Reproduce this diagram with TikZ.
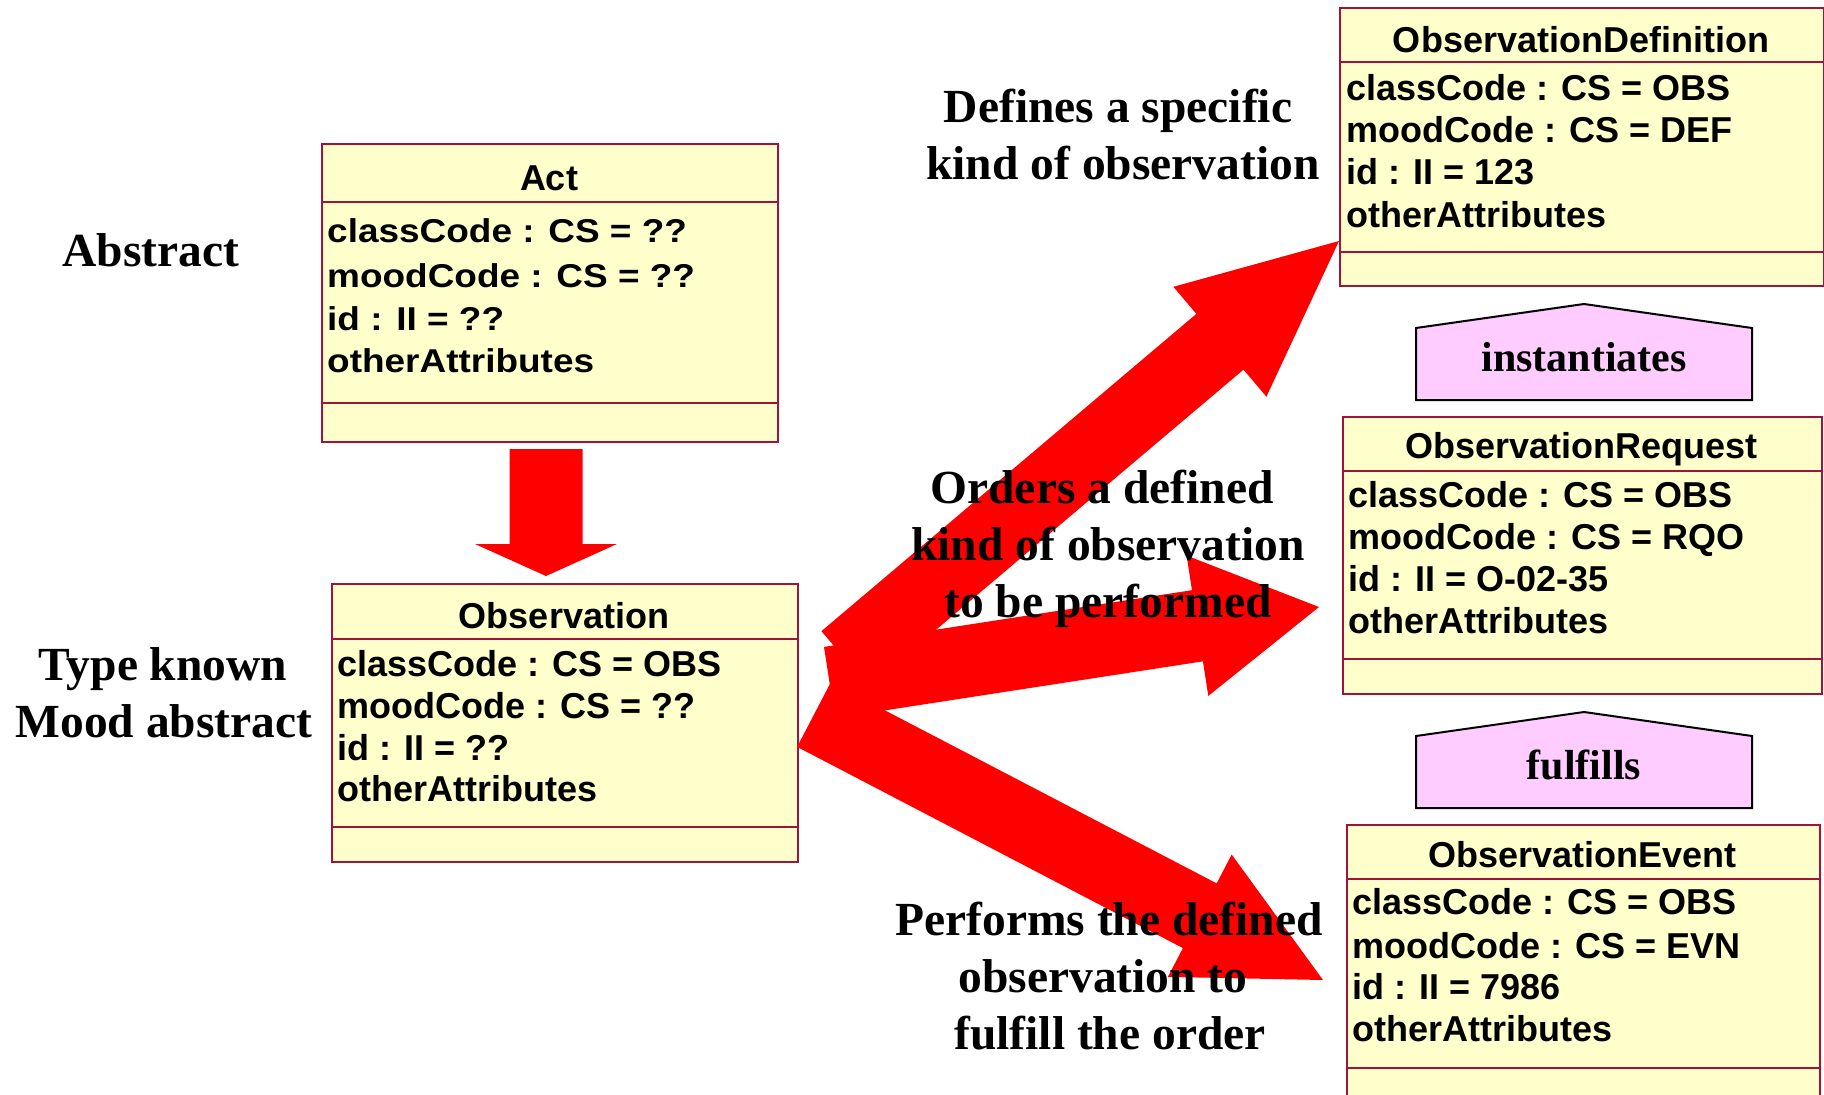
\documentclass[tikz,border=0pt]{standalone}
\usepackage{fontspec}
\setmainfont{Liberation Serif}
\newfontfamily\umlfont{Liberation Sans}
\newfontfamily\actfont{Liberation Sans}[FakeStretch=1.12]
\usetikzlibrary{calc}
\definecolor{boxfill}{HTML}{FFFFCC}
\definecolor{boxline}{HTML}{A0143C}
\definecolor{pinkfill}{HTML}{FFCCFF}
\definecolor{arrowred}{HTML}{FF0000}
\tikzset{
  umltitle/.style={inner sep=0pt, anchor=base, font=\umlfont\bfseries\fontsize{36}{42}\selectfont},
  umlattr/.style={inner sep=0pt, anchor=base west, font=\umlfont\bfseries\fontsize{36}{42}\selectfont},
  actattr/.style={inner sep=0pt, anchor=base west, font=\actfont\bfseries\fontsize{33}{42}\selectfont},
  lbl/.style={inner sep=0pt, anchor=base, font=\bfseries\fontsize{47.5}{57}\selectfont},
  stereo/.style={inner sep=0pt, anchor=base, font=\bfseries\fontsize{42}{50}\selectfont},
  umlbox/.style={draw=boxline, fill=boxfill, line width=2pt, inner sep=0pt, anchor=north west},
  umlsep/.style={draw=boxline, line width=1.6pt},
  pent/.style={draw=black, fill=pinkfill, line width=2pt, line join=miter},
}
\newcommand{\blockarrow}[5]{% tail, tip, shaft half width, head half width, head length
  \coordinate (#1-base) at ($(#2)!#5!(#1)$);
  \fill[arrowred] ($(#1)!#3!90:(#2)$) -- ($(#1-base)!#3!90:(#2)$) -- ($(#1-base)!#4!90:(#2)$) -- (#2)
    -- ($(#1-base)!#4!-90:(#2)$) -- ($(#1-base)!#3!-90:(#2)$) -- ($(#1)!#3!-90:(#2)$) -- cycle;
}
\newcommand{\umlseps}[3]{%
  \draw[umlsep] ($(#1.north west)+(0,#2)$) -- ($(#1.north east)+(0,#2)$);
  \draw[umlsep] ($(#1.north west)+(0,#3)$) -- ($(#1.north east)+(0,#3)$);
}
\begin{document}
\begin{tikzpicture}[x=1pt,y=-1pt]
\useasboundingbox (0,0) rectangle (1824,1095);
\clip (0,0) rectangle (1824,1095);

% ---------- class boxes ----------
\node[umlbox, minimum width=456pt, minimum height=298pt] (act) at (321,143) {};
\umlseps{act}{59}{260}
\node[umlbox, minimum width=466pt, minimum height=278pt] (obs) at (331,583) {};
\umlseps{obs}{56}{244}
\node[umlbox, minimum width=484pt, minimum height=278pt] (def) at (1339,7) {};
\umlseps{def}{55}{245}
\node[umlbox, minimum width=479pt, minimum height=277pt] (req) at (1342,416) {};
\umlseps{req}{55}{243}
\node[umlbox, minimum width=473pt, minimum height=300pt] (evn) at (1346,824) {};
\umlseps{evn}{55}{244}

% ---------- stereotype pentagons ----------
\draw[pent] (1416,400) -- (1416,328) -- (1584,304) -- (1752,328) -- (1752,400) -- cycle;
\node[stereo] (inst) at (1584,371) {instantiates};
\draw[pent] (1416,808) -- (1416,736) -- (1584,712) -- (1752,736) -- (1752,808) -- cycle;
\node[stereo] (fulf) at (1584,779) {fulfills};

% ---------- block arrows ----------
\coordinate (a0t) at (546,449);   \coordinate (a0p) at (546,576);
\coordinate (a1t) at (845,659);   \coordinate (a1p) at (1339,241);
\coordinate (a2t) at (829.5,682.5); \coordinate (a2p) at (1319,607);
\coordinate (a3t) at (814,714.5); \coordinate (a3p) at (1323,980);
\blockarrow{a0t}{a0p}{36.5pt}{71pt}{32pt}
\blockarrow{a1t}{a1p}{36.5pt}{72pt}{156pt}
\blockarrow{a2t}{a2p}{36pt}{71pt}{123pt}
\blockarrow{a3t}{a3p}{36.5pt}{69pt}{139pt}

% ---------- class texts ----------
\node[umltitle] (actT) at (549,190) {Act};
\node[actattr] (act1) at (327,242) {classCode : CS = ??};
\node[actattr] (act2) at (327,287) {moodCode : CS = ??};
\node[actattr] (act3) at (327,330) {id : II = ??};
\node[actattr] (act4) at (327,372) {otherAttributes};

\node[umltitle] (obsT) at (564,628) {Observation};
\node[umlattr] (obs1) at (337,676) {classCode : CS = OBS};
\node[umlattr] (obs2) at (337,718) {moodCode : CS = ??};
\node[umlattr] (obs3) at (337,760) {id : II = ??};
\node[umlattr] (obs4) at (337,801) {otherAttributes};

\node[umltitle] (defT) at (1581,52) {ObservationDefinition};
\node[umlattr] (def1) at (1346,100) {classCode : CS = OBS};
\node[umlattr] (def2) at (1346,142) {moodCode : CS = DEF};
\node[umlattr] (def3) at (1346,184) {id : II = 123};
\node[umlattr] (def4) at (1346,227) {otherAttributes};

\node[umltitle] (reqT) at (1581.5,458) {ObservationRequest};
\node[umlattr] (req1) at (1348,507) {classCode : CS = OBS};
\node[umlattr] (req2) at (1348,549) {moodCode : CS = RQO};
\node[umlattr] (req3) at (1348,591) {id : II = O-02-35};
\node[umlattr] (req4) at (1348,633) {otherAttributes};

\node[umltitle] (evnT) at (1582.5,867) {ObservationEvent};
\node[umlattr] (evn1) at (1352,914) {classCode : CS = OBS};
\node[umlattr] (evn2) at (1352,958) {moodCode : CS = EVN};
\node[umlattr] (evn3) at (1352,999) {id : II = 7986};
\node[umlattr] (evn4) at (1352,1041) {otherAttributes};

% ---------- labels ----------
\node[lbl] (abs) at (151,266) {Abstract};
\node[lbl] (tk1) at (163,680) {Type known};
\node[lbl] (tk2) at (164,737) {Mood abstract};
\node[lbl] (df1) at (1118,122) {Defines a specific};
\node[lbl] (df2) at (1123,179) {kind of observation};
\node[lbl] (or1) at (1102,503) {Orders a defined};
\node[lbl] (or2) at (1108,560) {kind of observation};
\node[lbl] (or3) at (1108,617) {to be performed};
\node[lbl] (pf1) at (1109,935) {Performs the defined};
\node[lbl] (pf2) at (1103,992) {observation to};
\node[lbl] (pf3) at (1110,1049) {fulfill the order};
\end{tikzpicture}
\end{document}
